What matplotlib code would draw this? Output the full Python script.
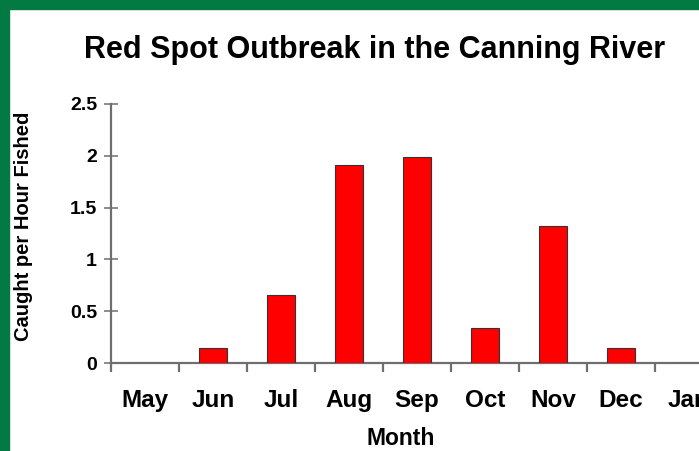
import numpy as np
import matplotlib.pyplot as plt
from matplotlib.patches import Rectangle

months = ["May", "Jun", "Jul", "Aug", "Sep", "Oct", "Nov", "Dec", "Jan"]
caught = [0, 0.14, 0.66, 1.91, 1.99, 0.34, 1.32, 0.14, 0]
yticks = [0, 0.5, 1, 1.5, 2, 2.5]
ytick_labels = ["0", "0.5", "1", "1.5", "2", "2.5"]

W, H = 699, 451
fig = plt.figure(figsize=(W / 100, H / 100), dpi=100)
plt.rcParams['font.family'] = ['Liberation Sans', 'DejaVu Sans']

# green frame of the page around the chart
green = "#047A43"
fig.patches.append(Rectangle((0, 0), 8.5 / W, 1, transform=fig.transFigure, color=green, zorder=0))
fig.patches.append(Rectangle((0, 1 - 9 / H), 1, 9 / H, transform=fig.transFigure, color=green, zorder=0))

left, right, bottom, top = 111, 699, 363, 104
step = 68.0  # px per month
ax = fig.add_axes([left / W, 1 - bottom / H, (right - left) / W, (bottom - top) / H])

x = np.arange(len(months))
ax.bar(x, caught, width=0.4, color="#FF0000", edgecolor="#333333", linewidth=0.8, zorder=3)

for s in ["top", "right"]:
    ax.spines[s].set_visible(False)
for s in ["left", "bottom"]:
    ax.spines[s].set_color("#6E6E6E")
    ax.spines[s].set_linewidth(1.6)

ax.set_yticks(yticks)
ax.set_yticklabels(ytick_labels, fontsize=14, fontweight="bold")
ax.tick_params(axis="y", direction="inout", length=10, width=1.1, color="#6E6E6E", pad=5)

ax.set_xticks(x)
ax.set_xticklabels(months, fontsize=17.5, fontweight="bold")
ax.set_xticks(np.arange(-0.5, len(months), 1), minor=True)
ax.tick_params(axis="x", which="major", length=0, pad=19)
ax.tick_params(axis="x", which="minor", direction="out", length=6.5, width=1.6, color="#6E6E6E")

# limits after the ticks, so set_xticks can't widen them
ax.set_xlim(-0.5, -0.5 + (right - left) / step)
ax.set_ylim(0, 2.5)

ax.set_ylabel("Caught per Hour Fished", fontsize=14.5, fontweight="bold")
ax.yaxis.set_label_coords((33 - left) / (right - left), (bottom - 226) / (bottom - top))
ax.set_xlabel("Month", fontsize=16.5, fontweight="bold")
ax.xaxis.set_label_coords((401 - left) / (right - left), -(427 - bottom) / (bottom - top))

fig.text(375 / W, 1 - 50 / H, "Red Spot Outbreak in the Canning River",
         ha="center", va="center", fontsize=22, fontweight="bold")

fig.savefig("out.png", dpi=100)
